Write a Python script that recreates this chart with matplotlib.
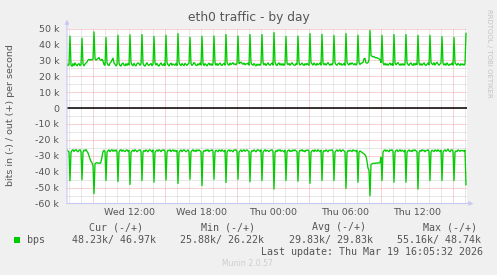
import pandas as pd
import matplotlib
matplotlib.use("Agg")
import matplotlib.pyplot as plt
import matplotlib.dates as mdates
import matplotlib.ticker as ticker
from matplotlib.patches import Rectangle
from matplotlib.transforms import blended_transform_factory

# ---------------------------------------------------------------- data ---#
# 5 minute samples, in kbit/s, one row per hour (spike at 4th sample)
out_k_rows = [
    [27.8, 26.6, 27.4, 45.2, 27.0, 26.22, 27.9, 26.7, 28.4, 27.3, 26.5, 27.6],
    [27.9, 26.6, 27.2, 43.9, 27.8, 26.5, 27.6, 28.3, 28.9, 30.2, 30.6, 30.1],
    [30.6, 30.2, 30.8, 47.9, 31.0, 30.1, 30.7, 31.0, 31.8, 30.4, 29.9, 30.7],
    [29.6, 27.3, 26.9, 44.4, 28.4, 27.1, 26.7, 28.2, 28.9, 30.2, 31.4, 28.3],
    [27.6, 26.5, 27.4, 45.8, 28.1, 26.7, 26.4, 27.8, 28.3, 27.0, 26.6, 27.9],
    [26.8, 28.0, 27.1, 46.0, 28.6, 27.2, 26.6, 28.1, 27.0, 26.5, 27.9, 28.4],
    [27.9, 26.9, 27.7, 46.2, 28.2, 26.8, 26.4, 27.6, 28.5, 27.2, 26.8, 27.5],
    [28.0, 26.6, 27.5, 45.0, 28.3, 27.0, 28.1, 26.8, 26.4, 27.6, 28.4, 27.1],
    [26.8, 27.9, 26.7, 45.8, 28.5, 27.2, 26.5, 27.7, 28.2, 26.9, 27.8, 27.2],
    [26.9, 28.1, 26.8, 46.8, 28.6, 27.3, 26.7, 28.0, 27.2, 26.6, 28.1, 27.5],
    [26.8, 27.6, 28.2, 44.5, 27.9, 26.8, 27.5, 28.6, 27.9, 26.9, 26.7, 27.8],
    [27.1, 28.3, 27.0, 45.1, 28.1, 26.7, 27.9, 27.2, 26.5, 27.6, 28.2, 27.0],
    [27.9, 26.8, 27.6, 45.3, 28.4, 26.9, 28.0, 26.8, 27.7, 28.3, 27.1, 26.7],
    [27.6, 28.1, 27.0, 46.2, 28.8, 27.4, 26.9, 28.3, 27.3, 27.9, 28.5, 27.4],
    [27.8, 27.1, 28.2, 45.3, 28.0, 28.4, 28.9, 28.1, 27.5, 28.3, 27.2, 27.9],
    [27.6, 28.3, 27.0, 46.2, 28.4, 27.4, 26.9, 28.0, 27.1, 26.5, 27.6, 26.9],
    [27.6, 26.8, 27.9, 46.2, 28.6, 27.1, 28.0, 26.8, 27.6, 28.4, 27.3, 26.9],
    [27.7, 28.3, 27.0, 47.4, 28.7, 27.3, 26.7, 27.9, 28.4, 27.0, 27.9, 26.9],
    [27.9, 26.8, 27.7, 45.0, 28.3, 27.2, 28.0, 26.9, 27.8, 28.5, 27.6, 27.0],
    [26.8, 27.9, 27.4, 45.2, 28.4, 27.0, 27.6, 28.3, 27.3, 26.8, 27.9, 27.1],
    [28.1, 27.3, 26.9, 46.8, 28.6, 27.8, 27.0, 28.3, 27.5, 26.9, 28.1, 27.2],
    [27.6, 28.4, 27.0, 46.3, 28.3, 27.2, 28.0, 27.0, 27.8, 28.6, 27.5, 26.9],
    [27.8, 27.0, 28.3, 45.6, 28.4, 27.4, 26.9, 27.8, 28.4, 27.2, 28.0, 27.0],
    [27.2, 28.1, 26.9, 46.8, 28.7, 27.7, 27.0, 28.3, 27.5, 28.4, 27.8, 27.2],
    [28.0, 27.0, 27.8, 45.8, 28.5, 27.4, 28.1, 28.3, 28.6, 31.0, 31.2, 28.4],
    [28.2, 28.5, 30.1, 48.74, 33.0, 32.6, 32.1, 32.4, 31.8, 31.5, 31.7, 31.2],
    [30.9, 30.5, 28.6, 45.7, 28.4, 27.1, 28.1, 27.0, 27.8, 26.9, 27.6, 28.3],
    [27.0, 27.9, 26.8, 46.2, 28.3, 27.2, 28.0, 28.6, 27.5, 26.9, 27.8, 27.0],
    [27.9, 26.9, 27.6, 46.2, 28.5, 27.4, 26.8, 27.9, 28.4, 27.2, 26.8, 28.1],
    [27.0, 28.1, 27.3, 45.7, 28.2, 27.0, 27.9, 26.9, 27.7, 28.4, 27.2, 26.8],
    [27.6, 28.3, 27.1, 45.7, 28.6, 27.8, 27.2, 28.5, 27.0, 28.0, 28.8, 27.7],
    [26.9, 27.7, 28.3, 44.9, 28.2, 27.0, 27.9, 26.9, 28.4, 27.3, 26.8, 27.7],
    [27.2, 28.3, 27.0, 44.4, 28.4, 27.6, 26.9, 28.1, 27.3, 26.8, 27.9, 27.1],
    [27.7, 26.9, 27.8, 46.97],
]

in_k_rows = [
    [-26.3, -27.1, -27.6, -45.6, -27.9, -26.6, -26.2, -27.3, -26.5, -26.1, -27.0, -27.5],
    [-26.6, -26.2, -27.3, -45.0, -27.8, -26.4, -26.9, -26.1, -27.2, -28.2, -30.1, -32.0],
    [-33.6, -34.4, -36.2, -53.8, -34.9, -34.6, -34.3, -34.7, -34.5, -34.8, -33.9, -30.5],
    [-27.4, -26.5, -27.3, -45.6, -27.9, -26.8, -26.3, -27.4, -26.6, -26.2, -27.2, -26.4],
    [-27.1, -26.3, -27.5, -46.2, -27.8, -26.5, -26.2, -27.2, -26.4, -27.0, -27.4, -26.5],
    [-26.3, -27.2, -26.6, -48.0, -28.0, -26.9, -26.4, -27.3, -26.2, -26.7, -27.5, -26.9],
    [-26.5, -26.2, -27.3, -45.6, -27.7, -26.6, -27.3, -26.3, -26.9, -27.5, -26.5, -26.2],
    [-26.9, -27.5, -26.3, -46.6, -27.9, -26.9, -26.4, -27.2, -26.2, -26.7, -27.4, -26.4],
    [-26.7, -26.2, -27.2, -45.3, -27.8, -26.5, -26.9, -26.2, -27.4, -26.7, -26.3, -27.2],
    [-26.5, -27.3, -26.7, -47.4, -28.0, -26.9, -26.3, -27.4, -26.7, -26.2, -26.9, -27.5],
    [-26.9, -26.3, -27.4, -44.8, -27.7, -26.7, -26.2, -27.2, -26.5, -27.4, -26.3, -26.9],
    [-26.3, -26.9, -27.5, -48.8, -27.9, -26.7, -27.2, -26.3, -26.9, -26.2, -27.4, -26.7],
    [-26.7, -26.2, -27.2, -44.8, -27.7, -26.5, -26.9, -27.5, -26.3, -26.7, -27.2, -26.2],
    [-26.9, -27.4, -26.5, -46.8, -27.8, -26.7, -26.3, -27.2, -26.5, -26.9, -27.5, -26.3],
    [-26.5, -26.2, -27.2, -44.8, -27.7, -26.9, -26.3, -27.4, -26.7, -26.2, -27.2, -26.7],
    [-26.3, -26.9, -27.4, -46.3, -27.9, -26.7, -27.2, -26.3, -26.9, -27.5, -26.5, -26.2],
    [-26.7, -27.2, -26.3, -45.6, -27.8, -26.9, -26.2, -27.2, -26.5, -26.9, -27.4, -26.7],
    [-26.5, -26.2, -27.2, -50.9, -28.0, -26.7, -27.4, -26.3, -26.9, -26.2, -27.2, -26.7],
    [-26.9, -27.5, -26.5, -45.6, -27.7, -26.7, -26.3, -27.4, -26.7, -27.2, -26.3, -26.9],
    [-26.3, -26.9, -27.4, -46.0, -27.8, -26.5, -26.9, -26.2, -27.2, -26.7, -27.5, -26.5],
    [-26.7, -26.3, -27.2, -47.3, -27.9, -26.9, -26.5, -27.4, -26.3, -26.9, -27.2, -26.2],
    [-26.9, -27.4, -26.5, -45.6, -27.7, -26.7, -27.2, -26.3, -26.9, -27.5, -26.5, -26.7],
    [-26.5, -26.2, -27.2, -45.6, -27.8, -26.9, -26.3, -27.2, -26.7, -26.2, -27.4, -26.7],
    [-26.3, -26.9, -27.5, -50.5, -28.0, -26.7, -27.2, -26.5, -26.9, -27.4, -26.3, -26.9],
    [-26.7, -27.2, -26.5, -46.6, -27.8, -26.9, -27.5, -27.8, -28.3, -28.8, -29.4, -30.4],
    [-33.5, -37.8, -39.2, -55.16, -35.4, -35.1, -34.8, -34.6, -34.9, -34.5, -34.7, -34.4],
    [-34.6, -34.2, -31.0, -45.6, -27.7, -26.7, -26.3, -27.2, -26.5, -26.9, -27.5, -26.3],
    [-26.7, -26.2, -27.2, -46.6, -27.8, -26.7, -26.3, -27.4, -26.9, -26.2, -27.2, -26.5],
    [-26.9, -27.5, -26.5, -46.6, -27.9, -26.9, -26.3, -27.2, -26.7, -27.4, -26.3, -26.9],
    [-26.3, -26.9, -27.4, -50.9, -28.0, -26.7, -27.2, -26.2, -26.9, -26.5, -27.5, -26.7],
    [-26.7, -26.2, -27.2, -45.6, -27.7, -26.5, -26.9, -27.4, -26.3, -26.7, -27.2, -26.2],
    [-26.9, -27.4, -26.5, -45.6, -27.8, -26.7, -26.3, -27.2, -26.5, -25.88, -26.9, -27.5],
    [-26.5, -26.2, -27.2, -45.6, -27.7, -26.9, -27.4, -26.3, -26.7, -27.2, -26.5, -26.9],
    [-26.7, -27.2, -26.5, -48.23],
]

legend_headers = ["Cur (-/+)", "Min (-/+)", "Avg (-/+)", "Max (-/+)"]
legend_values = ["48.23k/ 46.97k", "25.88k/ 26.22k", "29.83k/ 29.83k", "55.16k/ 48.74k"]
last_update = "Last update: Thu Mar 19 16:05:32 2026"
graph_end = "2026-03-19 16:10"

out_bits = [v * 1000 for row in out_k_rows for v in row]
in_bits = [v * 1000 for row in in_k_rows for v in row]

# ---------------------------------------------------------------- plot ---#
W, H = 497, 275
GREEN = "#00CC00"
TXT = "#555555"


def px(x, y):
    # pixel (from top-left) -> figure fraction
    return x / W, 1 - y / H


end = pd.Timestamp(graph_end)
start = end - pd.Timedelta(minutes=5) * 400
times = mdates.date2num(pd.date_range(start, periods=len(out_bits), freq="5min"))

fig = plt.figure(figsize=(W / 100, H / 100), dpi=100)
fig.patch.set_facecolor("#F0F0F0")

# plot area: x 67..467, y 28.5 (50k) .. 203.5 (-60k)
ax = fig.add_axes([67 / W, 71.5 / H, 400 / W, 175 / H])
ax.set_facecolor("white")
ax.set_xlim(mdates.date2num(start), mdates.date2num(end))
ax.set_ylim(-60000, 50000)

for s in ax.spines.values():
    s.set_visible(False)

# grid: minor gray, major red-ish, both dotted
ax.yaxis.set_major_locator(ticker.MultipleLocator(10000))
ax.yaxis.set_minor_locator(ticker.MultipleLocator(5000))
ax.xaxis.set_major_locator(mdates.HourLocator(byhour=[3, 9, 15, 21]))
ax.xaxis.set_minor_locator(mdates.HourLocator())
ax.xaxis.set_major_formatter(ticker.NullFormatter())
ax.grid(which="minor", color="#D0D0D0", linestyle=(0, (1, 1)), linewidth=0.72)
ax.grid(which="major", color="#F0A8A8", linestyle=(0, (1, 1)), linewidth=0.72)
ax.set_axisbelow(True)

ax.yaxis.set_major_formatter(
    ticker.FuncFormatter(lambda v, p: "0" if v == 0 else f"{int(round(v / 1000))} k"))
ax.tick_params(axis="y", which="both", length=0, pad=5.6, labelsize=6.8, labelcolor=TXT)
ax.tick_params(axis="x", which="both", length=0)

# x labels sit between the red lines (rrdtool style)
label_times = pd.date_range(start.ceil("6h"), end, freq="6h")
trans = blended_transform_factory(ax.transData, ax.transAxes)
for t in label_times:
    ax.text(mdates.date2num(t), -9.3 / 175, t.strftime("%a %H:%M"), transform=trans,
            ha="center", va="center", fontsize=6.8, color=TXT)

# zero line + data
ax.axhline(0, color="black", linewidth=1.1, zorder=2)
ax.plot(times, out_bits, color=GREEN, linewidth=0.95, zorder=3)
ax.plot(times, in_bits, color=GREEN, linewidth=0.95, zorder=3)

# axis lines with arrows
axis_col = "#C8C8F5"
ax.annotate("", xy=(0, 1.05), xytext=(0, 0), xycoords="axes fraction",
            arrowprops=dict(arrowstyle="-|>", color=axis_col, lw=0.8, mutation_scale=6,
                            shrinkA=0, shrinkB=0), annotation_clip=False)
ax.annotate("", xy=(1.016, 0), xytext=(0, 0), xycoords="axes fraction",
            arrowprops=dict(arrowstyle="-|>", color=axis_col, lw=0.8, mutation_scale=6,
                            shrinkA=0, shrinkB=0), annotation_clip=False)

# titles
fig.text(*px(248.5, 18), "eth0 traffic - by day", ha="center", va="center",
         fontsize=8.8, color=TXT)
fig.text(*px(10.5, 115), "bits in (-) / out (+) per second", rotation=90,
         ha="center", va="center", fontsize=6.8, color=TXT)
fig.text(*px(488.5, 53), "RRDTOOL / TOBI OETIKER", rotation=270,
         ha="center", va="center", fontsize=5.0, color="#C4C4C4")

# legend block (monospace, like rrdtool)
header_x = [89, 201, 312, 423]
value_x = [72.3, 180.3, 289.3, 397.3]
for hx, htxt in zip(header_x, legend_headers):
    fig.text(*px(hx, 227.5), htxt, ha="left", va="center", family="DejaVu Sans Mono",
             fontsize=7.2, color=TXT)
for vx, vtxt in zip(value_x, legend_values):
    fig.text(*px(vx, 240), vtxt, ha="left", va="center", family="DejaVu Sans Mono",
             fontsize=7.2, color=TXT)
fig.patches.append(Rectangle(px(14, 243), 6 / W, 6 / H, transform=fig.transFigure,
                             facecolor=GREEN, edgecolor="none"))
fig.text(*px(26.7, 240), "bps", ha="left", va="center", family="DejaVu Sans Mono",
         fontsize=7.2, color=TXT)
fig.text(*px(482.7, 251.7), last_update, ha="right", va="center",
         family="DejaVu Sans Mono", fontsize=7.2, color=TXT)
fig.text(*px(247.7, 263.3), "Munin 2.0.57", ha="center", va="center",
         fontsize=5.6, color="#CDCDCD")

fig.savefig("out.png", dpi=100, facecolor=fig.get_facecolor())
